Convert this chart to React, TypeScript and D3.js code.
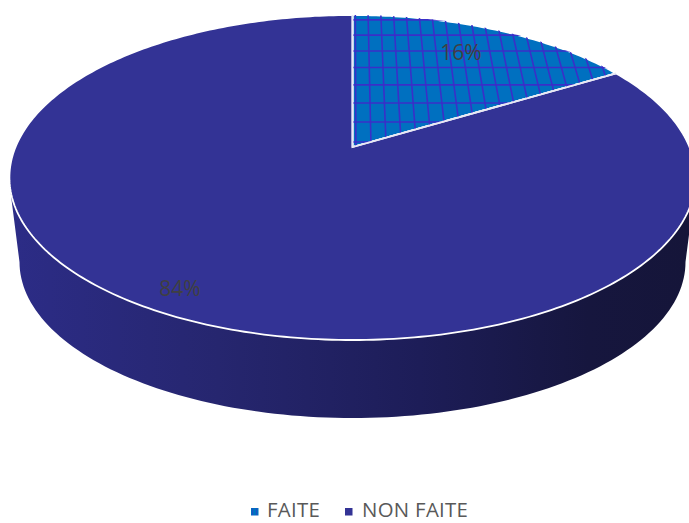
import React from "react";
import * as d3 from "d3";

const categories = ["FAITE", "NON FAITE"];
const values = [16.4, 83.6];
const sliceColors = ["#0070c0", "#333395"];

const WIDTH = 689;
const HEIGHT = 523;
const CX = 352.5;
const R = 337;
const APEX_Y = 147;
const TILT = 0.1877;
const Y_SLOPE = -129.2;
const DEPTH_RX = 333;
const BOTTOM_CY = 262;
const BOTTOM_RY = 156;
const FONT = "'Open Sans', sans-serif";

// Projects a point of the unit disc (u right, v away from the viewer) onto the tilted pie.
function project(u: number, v: number): [number, number] {
  const d = TILT * v + 1;
  return [CX + (R * u) / d, (Y_SLOPE * v + APEX_Y) / d];
}

const onRim = (a: number): [number, number] => project(Math.sin(a), Math.cos(a));

const lineGen = d3.line<[number, number]>();

function slicePath(a0: number, a1: number): string {
  const n = Math.max(8, Math.ceil((a1 - a0) * 60));
  const pts = d3.range(n + 1).map((i) => onRim(a0 + ((a1 - a0) * i) / n));
  return lineGen([project(0, 0), ...pts, project(0, 0)]) + "Z";
}

const pieLayout = d3.pie<number>().sort(null).value((d) => d);
const arcs = pieLayout(values);

// Body of the cylinder: lower half of the base ellipse joined to the sides of the top face.
function sidePath(): string {
  const n = 120;
  const lower = d3.range(n + 1).map((i): [number, number] => {
    const t = (Math.PI * i) / n;
    return [CX + DEPTH_RX * Math.cos(t), BOTTOM_CY + BOTTOM_RY * Math.sin(t)];
  });
  return lineGen([[696, 180], ...lower, [9, 180]]) + "Z";
}

const hatchV = d3.range(8).map((k) => 0.032 + 0.132 * k);
const hatchU = d3.range(21).map((k) => 0.01 + 0.045 * k);

const percent = d3.format(".0%");
const total = d3.sum(values);
const labelPos = [
  [461, 52],
  [180, 288],
];

const legendMarks = [251, 345];
const legendText = [267, 362];

export default function App() {
  const clipFor = slicePath(arcs[0].startAngle, arcs[0].endAngle);
  return (
    <svg
      width={WIDTH}
      height={HEIGHT}
      viewBox={`0 0 ${WIDTH} ${HEIGHT}`}
      style={{ position: "absolute", left: 0, top: 0, display: "block" }}
    >
      <defs>
        <linearGradient id="side" gradientUnits="userSpaceOnUse" x1={15} x2={689} y1={0} y2={0}>
          <stop offset="0" stopColor="#2c2c86" />
          <stop offset="0.3" stopColor="#26266f" />
          <stop offset="0.6" stopColor="#1d1d58" />
          <stop offset="0.85" stopColor="#16163e" />
          <stop offset="1" stopColor="#151539" />
        </linearGradient>
        <clipPath id="sliceClip">
          <path d={clipFor} />
        </clipPath>
        <pattern id="legendHatch" width="4" height="4" patternUnits="userSpaceOnUse">
          <rect width="4" height="4" fill={sliceColors[0]} />
          <path d="M0 0V4" stroke="#3a2fc8" strokeWidth={1} />
        </pattern>
      </defs>
      <path d={sidePath()} fill="url(#side)" />
      {arcs.map((a, i) => (
        <path
          key={categories[i]}
          d={slicePath(a.startAngle, a.endAngle)}
          fill={sliceColors[i]}
          stroke="#ffffff"
          strokeWidth={1.8}
          strokeLinejoin="round"
        />
      ))}
      <g clipPath="url(#sliceClip)" stroke="#3a2fc8" strokeWidth={1.6} fill="none">
        {hatchV.map((v) => (
          <path key={`v${v}`} d={lineGen([project(-0.1, v), project(1.1, v)]) ?? ""} />
        ))}
        {hatchU.map((u) => (
          <path key={`u${u}`} d={lineGen([project(u, 0), project(u, 1.05)]) ?? ""} />
        ))}
      </g>
      <path
        d={lineGen([onRim(arcs[0].endAngle), project(0, 0), onRim(0)]) ?? ""}
        fill="none"
        stroke="#e8e8f4"
        strokeWidth={1.8}
      />
      {values.map((v, i) => (
        <text
          key={`label${i}`}
          x={labelPos[i][0]}
          y={labelPos[i][1]}
          textAnchor="middle"
          dominantBaseline="central"
          fontFamily={FONT}
          fontSize={21}
          fill="#404040"
        >
          {percent(v / total)}
        </text>
      ))}
      {categories.map((c, i) => (
        <g key={`legend${c}`}>
          <rect
            x={legendMarks[i]}
            y={508}
            width={7.5}
            height={7.5}
            fill={i === 0 ? "url(#legendHatch)" : sliceColors[i]}
          />
          <text
            x={legendText[i]}
            y={517}
            fontFamily={FONT}
            fontSize={20.4}
            letterSpacing={0.3}
            fill="#595959"
          >
            {c}
          </text>
        </g>
      ))}
    </svg>
  );
}
